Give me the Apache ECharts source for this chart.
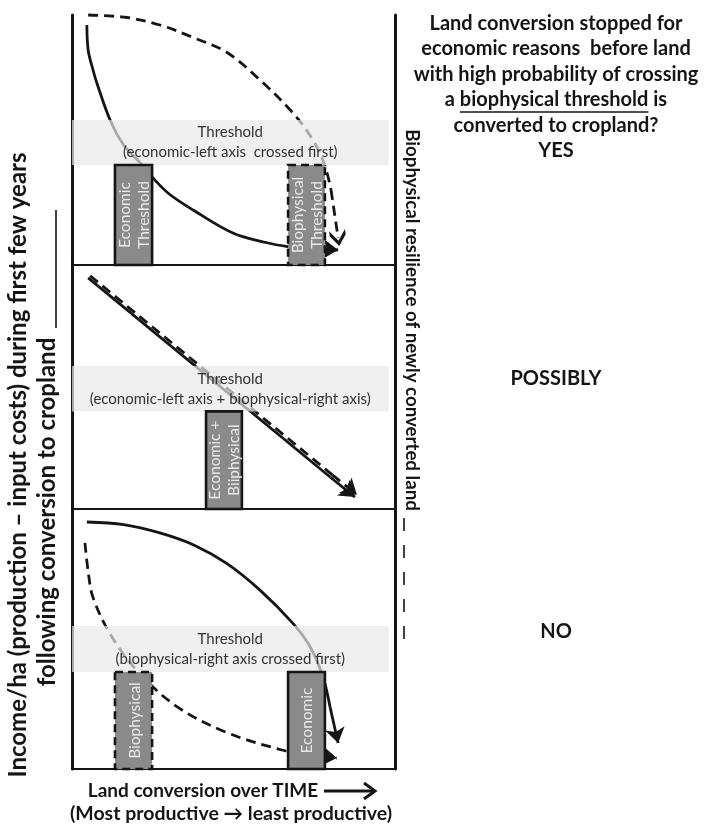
<!DOCTYPE html>
<html><head><meta charset="utf-8">
<script src="https://cdn.jsdelivr.net/npm/echarts@6/dist/echarts.min.js"></script>
<style>html,body{margin:0;padding:0;background:#fff}#c{width:713px;height:824px}</style>
</head><body><div id="c"></div>
<script>
// ---- Data (each panel: x 0-100 = land conversion over time, y 0-100 = income / resilience) ----
const panelTops = [15, 265, 509];
const panelHeights = [250, 244, 260];

const bandX = [0, 98];
const bandY = [[40, 58], [40, 58.6], [37.3, 55]];
const bandTitle = ['Threshold', 'Threshold', 'Threshold'];
const bandSub = ['(economic-left axis  crossed first)', '(economic-left axis + biophysical-right axis)', '(biophysical-right axis crossed first)'];

const boxPanel = [0, 0, 1, 2, 2];
const boxX0 = [13.3, 66.9, 41.5, 13.3, 66.9];
const boxX1 = [24.8, 78.3, 52.6, 24.8, 78.3];
const boxTop = [40, 40, 40, 37.3, 37.3];
const boxDashed = [false, true, false, true, false];
const boxLabel = [['Economic', 'Threshold'], ['Biophysical', 'Threshold'], ['Economic +', 'Biiphysical'], ['Biophysical'], ['Economic']];

// income curves (solid, left axis)
const incomeTop = [[4.6, 96], [5, 86], [6.3, 79], [7.7, 72.8], [11.8, 58], [16, 48], [22, 39.6], [24.8, 35.2], [30, 28.5], [37.5, 22], [49.8, 12.8], [60, 9], [67.5, 7.2]];
const incomeTopTip = [82.4, 6];
const incomeMid = [[5, 94.7], [80, 13]];
const incomeMidTip = [87.6, 4.9];
const incomeBot = [[4.6, 95], [16, 94], [27.2, 90.8], [38, 86], [48, 79], [58.2, 68.8], [68.4, 56], [73.7, 47], [77.7, 35.4], [79.9, 23.8]];
const incomeBotTip = [82.4, 10];

// resilience curves (dashed, right axis)
const resilTop = [[5, 100], [17, 99], [27.2, 96], [37.5, 91], [48, 85], [58.2, 74], [68.4, 60.8], [74.6, 50], [78.3, 39.6], [80.2, 30]];
const resilTopTip = [82.4, 10.8];
const resilMid = [[5.6, 95.6], [80.6, 14]];
const resilMidTip = [88.2, 5.8];
const resilBot = [[4, 87], [5, 76], [6.5, 66], [11.8, 52], [20, 38], [32.5, 24], [48, 14], [65, 7.3], [72, 5.8]];
const resilBotTip = [82, 4.2];

const answers = ['YES', 'POSSIBLY', 'NO'];

// ---- Chart ----
const INK = '#151515';
const CHEVRON = 'path://M5,0 L10,7 L10,10.5 L5,3.5 L0,10.5 L0,7 Z';
const chart = echarts.init(document.getElementById('c'), null, {renderer: 'canvas'});

const grids = [], xAxes = [], yAxes = [], series = [];
panelTops.forEach((t, i) => {
  grids.push({left: 72, width: 323, top: t, height: panelHeights[i], containLabel: false});
  xAxes.push({gridIndex: i, type: 'value', min: 0, max: 100,
    axisLine: {show: true, onZero: false, lineStyle: {color: INK, width: 2.2}},
    axisTick: {show: false}, axisLabel: {show: false}, splitLine: {show: false}});
  ['left', 'right'].forEach(pos => yAxes.push({gridIndex: i, type: 'value', min: 0, max: 100, position: pos,
    axisLine: {show: true, onZero: false, lineStyle: {color: INK, width: 3}},
    axisTick: {show: false}, axisLabel: {show: false}, splitLine: {show: false}}));
});

function curve(panel, pts, tip, dashed, smooth, head) {
  const ls = {color: INK, width: 2.8, type: dashed ? [10, 6] : 'solid'};
  series.push({
    type: 'line', xAxisIndex: panel, yAxisIndex: panel * 2, data: pts, smooth: smooth,
    symbol: 'none', clip: false, lineStyle: ls, z: 2, silent: true, animation: false
  });
  series.push({
    type: 'lines', coordinateSystem: 'cartesian2d', xAxisIndex: panel, yAxisIndex: panel * 2,
    z: 2, silent: true, animation: false, clip: false,
    symbol: ['none', head || 'arrow'], symbolSize: head ? 16 : 15,
    lineStyle: {color: INK, width: 2.8, type: dashed ? [10, 6] : 'solid', opacity: 1},
    data: [{coords: [pts[pts.length - 1], tip]}]
  });
}
curve(0, incomeTop, incomeTopTip, false, 0.35);
curve(0, resilTop, resilTopTip, true, 0.35, CHEVRON);
curve(1, incomeMid, incomeMidTip, false, false);
curve(1, resilMid, resilMidTip, true, false);
curve(2, incomeBot, incomeBotTip, false, 0.35);
curve(2, resilBot, resilBotTip, true, 0.35);

// threshold bands (translucent, on top of curves)
bandY.forEach((by, i) => {
  series.push({
    type: 'custom', xAxisIndex: i, yAxisIndex: i * 2, z: 5, clip: false, silent: true, animation: false,
    data: [[bandX[0], by[0], bandX[1], by[1]]],
    renderItem: (params, api) => {
      const p0 = api.coord([api.value(0), api.value(3)]);
      const p1 = api.coord([api.value(2), api.value(1)]);
      return {type: 'group', children: [
        {type: 'rect', shape: {x: p0[0], y: p0[1], width: p1[0] - p0[0], height: p1[1] - p0[1]},
          style: {fill: 'rgba(232,232,232,0.70)'}},
        {type: 'text', x: (p0[0] + p1[0]) / 2, y: (p0[1] + p1[1]) / 2,
          style: {text: bandTitle[i] + '\n' + bandSub[i], fill: '#333', font: '15px Lato', align: 'center', verticalAlign: 'middle', lineHeight: 20}}
      ]};
    }
  });
});

// threshold boxes
boxPanel.forEach((p, k) => {
  series.push({
    type: 'custom', xAxisIndex: p, yAxisIndex: p * 2, z: 6, clip: false, silent: true, animation: false,
    data: [[boxX0[k], 0, boxX1[k], boxTop[k]]],
    renderItem: (params, api) => {
      const a = api.coord([api.value(0), api.value(3)]);
      const b = api.coord([api.value(2), api.value(1)]);
      return {type: 'group', children: [
        {type: 'rect', shape: {x: a[0], y: a[1], width: b[0] - a[0], height: b[1] - a[1]},
          style: {fill: '#8a8a8a', stroke: INK, lineWidth: 2.6, lineDash: boxDashed[k] ? [8, 5] : null}},
        {type: 'text', x: (a[0] + b[0]) / 2 + 1, y: (a[1] + b[1]) / 2, rotation: Math.PI / 2,
          style: {text: boxLabel[k].join('\n'), fill: '#e8e8e8', font: '15.5px Lato', align: 'center', verticalAlign: 'middle', lineHeight: 19}}
      ]};
    }
  });
});

// underline position for "biophysical threshold"
const qFont = 'bold 20px Lato';
const mctx = document.createElement('canvas').getContext('2d');
mctx.font = qFont;
const qLine = 'a biophysical threshold is';
const qFull = mctx.measureText(qLine).width;
const qStart = 556 - qFull / 2 + mctx.measureText('a ').width;
const qEnd = qStart + mctx.measureText('biophysical threshold').width;

const B = 'bold ';
const graphic = [
  // left axis title
  {type: 'text', x: 18, y: 465, rotation: Math.PI / 2,
    style: {text: 'Income/ha (production \u2013 input costs) during first few years', font: B + '24px Lato', fill: INK, align: 'center', verticalAlign: 'middle'}},
  {type: 'text', x: 47, y: 512, rotation: Math.PI / 2,
    style: {text: 'following conversion to cropland', font: B + '24px Lato', fill: INK, align: 'center', verticalAlign: 'middle'}},
  {type: 'line', shape: {x1: 56, y1: 328, x2: 56, y2: 210}, style: {stroke: INK, lineWidth: 1.6}},
  // right axis title
  {type: 'text', x: 412, y: 320, rotation: -Math.PI / 2,
    style: {text: 'Biophysical resilience of newly converted land', font: B + '18.7px Lato', fill: INK, align: 'center', verticalAlign: 'middle'}},
  {type: 'line', shape: {x1: 404, y1: 518, x2: 404, y2: 650}, style: {stroke: INK, lineWidth: 1.6, lineDash: [13, 14]}},
  // x axis title
  {type: 'text', x: 203, y: 791,
    style: {text: 'Land conversion over TIME', font: B + '19px Lato', fill: INK, align: 'center', verticalAlign: 'middle'}},
  {type: 'line', shape: {x1: 324, y1: 791, x2: 374, y2: 791}, style: {stroke: INK, lineWidth: 3}},
  {type: 'polyline', shape: {points: [[364, 783], [375, 791], [364, 799]]}, style: {stroke: INK, lineWidth: 3, fill: null}},
  {type: 'text', x: 231, y: 814,
    style: {text: '(Most productive \u2192 least productive)', font: B + '19.5px Lato', fill: INK, align: 'center', verticalAlign: 'middle'}},
  // question block
  {type: 'text', x: 556, y: 87,
    style: {text: 'Land conversion stopped for\neconomic reasons  before land\nwith high probability of crossing\n' + qLine + '\nconverted to cropland?\n' + answers[0],
      font: qFont, fill: INK, align: 'center', verticalAlign: 'middle', lineHeight: 25.5}},
  {type: 'line', shape: {x1: qStart, y1: 112, x2: qEnd, y2: 112}, style: {stroke: INK, lineWidth: 1.5}},
  {type: 'text', x: 556, y: 379, style: {text: answers[1], font: qFont, fill: INK, align: 'center', verticalAlign: 'middle'}},
  {type: 'text', x: 556, y: 632, style: {text: answers[2], font: qFont, fill: INK, align: 'center', verticalAlign: 'middle'}}
];

chart.setOption({
  animation: false,
  grid: grids, xAxis: xAxes, yAxis: yAxes, series: series, graphic: graphic
});
</script></body></html>
